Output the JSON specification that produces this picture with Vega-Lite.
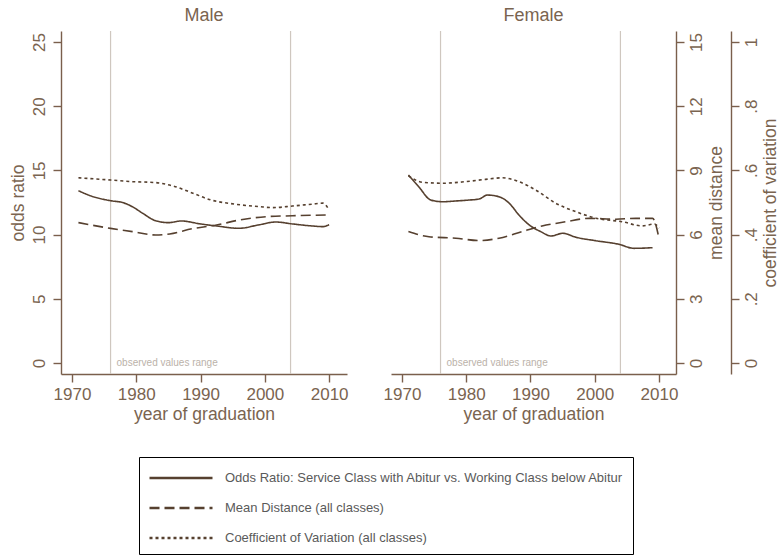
{
  "$schema": "https://vega.github.io/schema/vega-lite/v6.json",
  "background": "white",
  "padding": {"left": 9, "top": 7, "right": 0, "bottom": 0},
  "spacing": 44,
  "bounds": "flush",
  "config": {
    "view": {"stroke": null},
    "font": "Liberation Sans",
    "axis": {"domainColor": "#7a5f4c", "tickColor": "#7a5f4c", "labelColor": "#7a6450", "titleColor": "#7a6450", "labelFontSize": 17, "titleFontSize": 17.5, "titleFontWeight": "normal", "tickSize": 8, "grid": false, "domainWidth": 1.4, "tickWidth": 1.4, "labelFont": "Liberation Sans", "titleFont": "Liberation Sans"},
    "title": {"fontSize": 18, "fontWeight": "normal", "color": "#7a6450", "font": "Liberation Sans", "anchor": "middle", "frame": "group", "offset": 5}
  },
  "datasets": {
    "curves": [
      {"sex": "Male", "series": "Odds Ratio: Service Class with Abitur vs. Working Class below Abitur", "year": 1971, "value": 13.42},
      {"sex": "Male", "series": "Odds Ratio: Service Class with Abitur vs. Working Class below Abitur", "year": 1973, "value": 13.0},
      {"sex": "Male", "series": "Odds Ratio: Service Class with Abitur vs. Working Class below Abitur", "year": 1976, "value": 12.64},
      {"sex": "Male", "series": "Odds Ratio: Service Class with Abitur vs. Working Class below Abitur", "year": 1978, "value": 12.48},
      {"sex": "Male", "series": "Odds Ratio: Service Class with Abitur vs. Working Class below Abitur", "year": 1979.4, "value": 12.17},
      {"sex": "Male", "series": "Odds Ratio: Service Class with Abitur vs. Working Class below Abitur", "year": 1981, "value": 11.66},
      {"sex": "Male", "series": "Odds Ratio: Service Class with Abitur vs. Working Class below Abitur", "year": 1983, "value": 11.08},
      {"sex": "Male", "series": "Odds Ratio: Service Class with Abitur vs. Working Class below Abitur", "year": 1985, "value": 10.93},
      {"sex": "Male", "series": "Odds Ratio: Service Class with Abitur vs. Working Class below Abitur", "year": 1987, "value": 11.06},
      {"sex": "Male", "series": "Odds Ratio: Service Class with Abitur vs. Working Class below Abitur", "year": 1990, "value": 10.83},
      {"sex": "Male", "series": "Odds Ratio: Service Class with Abitur vs. Working Class below Abitur", "year": 1992.5, "value": 10.67},
      {"sex": "Male", "series": "Odds Ratio: Service Class with Abitur vs. Working Class below Abitur", "year": 1996, "value": 10.49},
      {"sex": "Male", "series": "Odds Ratio: Service Class with Abitur vs. Working Class below Abitur", "year": 1999, "value": 10.75},
      {"sex": "Male", "series": "Odds Ratio: Service Class with Abitur vs. Working Class below Abitur", "year": 2001.7, "value": 10.98},
      {"sex": "Male", "series": "Odds Ratio: Service Class with Abitur vs. Working Class below Abitur", "year": 2004.3, "value": 10.83},
      {"sex": "Male", "series": "Odds Ratio: Service Class with Abitur vs. Working Class below Abitur", "year": 2007.4, "value": 10.67},
      {"sex": "Male", "series": "Odds Ratio: Service Class with Abitur vs. Working Class below Abitur", "year": 2009, "value": 10.62},
      {"sex": "Male", "series": "Odds Ratio: Service Class with Abitur vs. Working Class below Abitur", "year": 2010, "value": 10.77},
      {"sex": "Male", "series": "Mean Distance (all classes)", "year": 1971, "value": 6.56},
      {"sex": "Male", "series": "Mean Distance (all classes)", "year": 1976, "value": 6.29},
      {"sex": "Male", "series": "Mean Distance (all classes)", "year": 1979.4, "value": 6.14},
      {"sex": "Male", "series": "Mean Distance (all classes)", "year": 1983, "value": 5.98},
      {"sex": "Male", "series": "Mean Distance (all classes)", "year": 1985.2, "value": 6.03},
      {"sex": "Male", "series": "Mean Distance (all classes)", "year": 1988.8, "value": 6.28},
      {"sex": "Male", "series": "Mean Distance (all classes)", "year": 1992.5, "value": 6.45},
      {"sex": "Male", "series": "Mean Distance (all classes)", "year": 1996, "value": 6.68},
      {"sex": "Male", "series": "Mean Distance (all classes)", "year": 2000.3, "value": 6.84},
      {"sex": "Male", "series": "Mean Distance (all classes)", "year": 2004.3, "value": 6.88},
      {"sex": "Male", "series": "Mean Distance (all classes)", "year": 2010, "value": 6.92},
      {"sex": "Male", "series": "Coefficient of Variation (all classes)", "year": 1971, "value": 0.577},
      {"sex": "Male", "series": "Coefficient of Variation (all classes)", "year": 1976, "value": 0.570},
      {"sex": "Male", "series": "Coefficient of Variation (all classes)", "year": 1979.4, "value": 0.565},
      {"sex": "Male", "series": "Coefficient of Variation (all classes)", "year": 1983, "value": 0.562},
      {"sex": "Male", "series": "Coefficient of Variation (all classes)", "year": 1985.8, "value": 0.551},
      {"sex": "Male", "series": "Coefficient of Variation (all classes)", "year": 1988.8, "value": 0.529},
      {"sex": "Male", "series": "Coefficient of Variation (all classes)", "year": 1991.6, "value": 0.508},
      {"sex": "Male", "series": "Coefficient of Variation (all classes)", "year": 1995.3, "value": 0.495},
      {"sex": "Male", "series": "Coefficient of Variation (all classes)", "year": 1999.2, "value": 0.487},
      {"sex": "Male", "series": "Coefficient of Variation (all classes)", "year": 2001.2, "value": 0.484},
      {"sex": "Male", "series": "Coefficient of Variation (all classes)", "year": 2004.3, "value": 0.489},
      {"sex": "Male", "series": "Coefficient of Variation (all classes)", "year": 2007.4, "value": 0.495},
      {"sex": "Male", "series": "Coefficient of Variation (all classes)", "year": 2009, "value": 0.498},
      {"sex": "Male", "series": "Coefficient of Variation (all classes)", "year": 2010, "value": 0.477},
      {"sex": "Female", "series": "Odds Ratio: Service Class with Abitur vs. Working Class below Abitur", "year": 1971, "value": 14.64},
      {"sex": "Female", "series": "Odds Ratio: Service Class with Abitur vs. Working Class below Abitur", "year": 1972.6, "value": 13.73},
      {"sex": "Female", "series": "Odds Ratio: Service Class with Abitur vs. Working Class below Abitur", "year": 1974.5, "value": 12.69},
      {"sex": "Female", "series": "Odds Ratio: Service Class with Abitur vs. Working Class below Abitur", "year": 1976.3, "value": 12.56},
      {"sex": "Female", "series": "Odds Ratio: Service Class with Abitur vs. Working Class below Abitur", "year": 1978.4, "value": 12.62},
      {"sex": "Female", "series": "Odds Ratio: Service Class with Abitur vs. Working Class below Abitur", "year": 1980.4, "value": 12.69},
      {"sex": "Female", "series": "Odds Ratio: Service Class with Abitur vs. Working Class below Abitur", "year": 1982, "value": 12.77},
      {"sex": "Female", "series": "Odds Ratio: Service Class with Abitur vs. Working Class below Abitur", "year": 1983.3, "value": 13.08},
      {"sex": "Female", "series": "Odds Ratio: Service Class with Abitur vs. Working Class below Abitur", "year": 1985.1, "value": 12.95},
      {"sex": "Female", "series": "Odds Ratio: Service Class with Abitur vs. Working Class below Abitur", "year": 1986.7, "value": 12.44},
      {"sex": "Female", "series": "Odds Ratio: Service Class with Abitur vs. Working Class below Abitur", "year": 1988.2, "value": 11.53},
      {"sex": "Female", "series": "Odds Ratio: Service Class with Abitur vs. Working Class below Abitur", "year": 1989.8, "value": 10.75},
      {"sex": "Female", "series": "Odds Ratio: Service Class with Abitur vs. Working Class below Abitur", "year": 1991.6, "value": 10.23},
      {"sex": "Female", "series": "Odds Ratio: Service Class with Abitur vs. Working Class below Abitur", "year": 1993.2, "value": 9.89},
      {"sex": "Female", "series": "Odds Ratio: Service Class with Abitur vs. Working Class below Abitur", "year": 1995, "value": 10.1},
      {"sex": "Female", "series": "Odds Ratio: Service Class with Abitur vs. Working Class below Abitur", "year": 1997.1, "value": 9.79},
      {"sex": "Female", "series": "Odds Ratio: Service Class with Abitur vs. Working Class below Abitur", "year": 2000.2, "value": 9.52},
      {"sex": "Female", "series": "Odds Ratio: Service Class with Abitur vs. Working Class below Abitur", "year": 2003.8, "value": 9.24},
      {"sex": "Female", "series": "Odds Ratio: Service Class with Abitur vs. Working Class below Abitur", "year": 2006.1, "value": 8.93},
      {"sex": "Female", "series": "Odds Ratio: Service Class with Abitur vs. Working Class below Abitur", "year": 2009, "value": 8.98},
      {"sex": "Female", "series": "Mean Distance (all classes)", "year": 1971, "value": 6.14},
      {"sex": "Female", "series": "Mean Distance (all classes)", "year": 1974.2, "value": 5.9},
      {"sex": "Female", "series": "Mean Distance (all classes)", "year": 1978.4, "value": 5.83},
      {"sex": "Female", "series": "Mean Distance (all classes)", "year": 1982, "value": 5.72},
      {"sex": "Female", "series": "Mean Distance (all classes)", "year": 1985.1, "value": 5.83},
      {"sex": "Female", "series": "Mean Distance (all classes)", "year": 1988.7, "value": 6.14},
      {"sex": "Female", "series": "Mean Distance (all classes)", "year": 1991.8, "value": 6.4},
      {"sex": "Female", "series": "Mean Distance (all classes)", "year": 1995.5, "value": 6.6},
      {"sex": "Female", "series": "Mean Distance (all classes)", "year": 1999.1, "value": 6.76},
      {"sex": "Female", "series": "Mean Distance (all classes)", "year": 2003.3, "value": 6.72},
      {"sex": "Female", "series": "Mean Distance (all classes)", "year": 2006.4, "value": 6.76},
      {"sex": "Female", "series": "Mean Distance (all classes)", "year": 2009, "value": 6.76},
      {"sex": "Female", "series": "Mean Distance (all classes)", "year": 2010, "value": 5.83},
      {"sex": "Female", "series": "Coefficient of Variation (all classes)", "year": 1971, "value": 0.583},
      {"sex": "Female", "series": "Coefficient of Variation (all classes)", "year": 1973.2, "value": 0.563},
      {"sex": "Female", "series": "Coefficient of Variation (all classes)", "year": 1976.3, "value": 0.560},
      {"sex": "Female", "series": "Coefficient of Variation (all classes)", "year": 1979.9, "value": 0.565},
      {"sex": "Female", "series": "Coefficient of Variation (all classes)", "year": 1983, "value": 0.572},
      {"sex": "Female", "series": "Coefficient of Variation (all classes)", "year": 1985.6, "value": 0.577},
      {"sex": "Female", "series": "Coefficient of Variation (all classes)", "year": 1988.2, "value": 0.565},
      {"sex": "Female", "series": "Coefficient of Variation (all classes)", "year": 1990.8, "value": 0.539},
      {"sex": "Female", "series": "Coefficient of Variation (all classes)", "year": 1993.9, "value": 0.498},
      {"sex": "Female", "series": "Coefficient of Variation (all classes)", "year": 1997.1, "value": 0.471},
      {"sex": "Female", "series": "Coefficient of Variation (all classes)", "year": 2000.2, "value": 0.451},
      {"sex": "Female", "series": "Coefficient of Variation (all classes)", "year": 2004.3, "value": 0.440},
      {"sex": "Female", "series": "Coefficient of Variation (all classes)", "year": 2007.4, "value": 0.427},
      {"sex": "Female", "series": "Coefficient of Variation (all classes)", "year": 2009.3, "value": 0.433},
      {"sex": "Female", "series": "Coefficient of Variation (all classes)", "year": 2010, "value": 0.420}
    ],
    "observed": [
      {"year": 1976, "label": "observed values range"},
      {"year": 2004, "label": ""}
    ]
  },
  "hconcat": [
    {
      "width": 286,
      "height": 343,
      "title": "Male",
      "encoding": {
        "x": {"field": "year", "type": "quantitative", "scale": {"domain": [1968.29, 2012.78], "nice": false, "zero": false}, "axis": {"values": [1970, 1980, 1990, 2000, 2010], "format": "d", "title": "year of graduation", "labelPadding": 4, "titlePadding": 3}}
      },
      "layer": [
        {"data": {"name": "observed"}, "mark": {"type": "rule", "color": "#cfc7bf", "strokeWidth": 1.2}, "encoding": {}},
        {"data": {"name": "observed"}, "mark": {"type": "text", "align": "left", "baseline": "middle", "dx": 6, "fontSize": 10, "color": "#bbb2a9", "font": "Liberation Sans"},
         "encoding": {"text": {"field": "label"}, "y": {"datum": 0, "scale": {"domain": [-0.86, 25.86], "nice": false, "zero": false}, "axis": null}}},
        {"data": {"name": "curves"}, "transform": [{"filter": "datum.sex === 'Male'"}, {"filter": {"field": "series", "equal": "Odds Ratio: Service Class with Abitur vs. Working Class below Abitur"}}],
         "mark": {"type": "line", "color": "#56402f", "strokeWidth": 1.6, "interpolate": "monotone"},
         "encoding": {
           "y": {"field": "value", "type": "quantitative", "scale": {"domain": [-0.86, 25.86], "nice": false, "zero": false}, "axis": {"values": [0, 5, 10, 15, 20, 25], "title": "odds ratio", "labelAngle": -90, "labelPadding": 5, "titlePadding": 3}},
           "strokeDash": {"field": "series", "type": "nominal", "scale": {"domain": ["Odds Ratio: Service Class with Abitur vs. Working Class below Abitur", "Mean Distance (all classes)", "Coefficient of Variation (all classes)"], "range": [[1, 0], [10, 5], [3, 3]]},
             "legend": {"orient": "none", "legendX": 78, "legendY": 426, "title": null, "direction": "vertical", "symbolType": "M-3,0H3", "symbolSize": 441, "symbolStrokeColor": "black", "symbolStrokeWidth": 2.5, "symbolOffset": 21, "labelOffset": 32, "labelFontSize": 13, "labelColor": "#5a5a5a", "labelFont": "Liberation Sans", "labelLimit": 0, "rowPadding": 11, "padding": 9, "strokeColor": "black", "fillColor": "white", "cornerRadius": 0}}
         }},
        {"data": {"name": "curves"}, "transform": [{"filter": "datum.sex === 'Male'"}, {"filter": {"field": "series", "equal": "Mean Distance (all classes)"}}],
         "mark": {"type": "line", "color": "#56402f", "strokeWidth": 1.6, "interpolate": "monotone"},
         "encoding": {
           "y": {"field": "value", "type": "quantitative", "scale": {"domain": [-0.516, 15.516], "nice": false, "zero": false}, "axis": null},
           "strokeDash": {"field": "series", "type": "nominal"}
         }},
        {"data": {"name": "curves"}, "transform": [{"filter": "datum.sex === 'Male'"}, {"filter": {"field": "series", "equal": "Coefficient of Variation (all classes)"}}],
         "mark": {"type": "line", "color": "#56402f", "strokeWidth": 1.6, "interpolate": "monotone"},
         "encoding": {
           "y": {"field": "value", "type": "quantitative", "scale": {"domain": [-0.0344, 1.0344], "nice": false, "zero": false}, "axis": null},
           "strokeDash": {"field": "series", "type": "nominal"}
         }}
      ],
      "resolve": {"scale": {"y": "independent"}}
    },
    {
      "width": 285,
      "height": 343,
      "title": "Female",
      "encoding": {
        "x": {"field": "year", "type": "quantitative", "scale": {"domain": [1968.29, 2012.65], "nice": false, "zero": false}, "axis": {"values": [1970, 1980, 1990, 2000, 2010], "format": "d", "title": "year of graduation", "labelPadding": 4, "titlePadding": 3}}
      },
      "layer": [
        {"data": {"name": "observed"}, "mark": {"type": "rule", "color": "#cfc7bf", "strokeWidth": 1.2}, "encoding": {}},
        {"data": {"name": "observed"}, "mark": {"type": "text", "align": "left", "baseline": "middle", "dx": 6, "fontSize": 10, "color": "#bbb2a9", "font": "Liberation Sans"},
         "encoding": {"text": {"field": "label"}, "y": {"datum": 0, "scale": {"domain": [-0.86, 25.86], "nice": false, "zero": false}, "axis": null}}},
        {"data": {"name": "curves"}, "transform": [{"filter": "datum.sex === 'Female'"}, {"filter": {"field": "series", "equal": "Odds Ratio: Service Class with Abitur vs. Working Class below Abitur"}}],
         "mark": {"type": "line", "color": "#56402f", "strokeWidth": 1.6, "interpolate": "monotone"},
         "encoding": {
           "y": {"field": "value", "type": "quantitative", "scale": {"domain": [-0.86, 25.86], "nice": false, "zero": false}, "axis": null},
           "strokeDash": {"field": "series", "type": "nominal"}
         }},
        {"data": {"name": "curves"}, "transform": [{"filter": "datum.sex === 'Female'"}, {"filter": {"field": "series", "equal": "Mean Distance (all classes)"}}],
         "mark": {"type": "line", "color": "#56402f", "strokeWidth": 1.6, "interpolate": "monotone"},
         "encoding": {
           "y": {"field": "value", "type": "quantitative", "scale": {"domain": [-0.516, 15.516], "nice": false, "zero": false}, "axis": {"orient": "right", "values": [0, 3, 6, 9, 12, 15], "title": "mean distance", "labelAngle": -90, "labelPadding": 4, "titleAngle": 270, "titleBaseline": "top", "titlePadding": 3}},
           "strokeDash": {"field": "series", "type": "nominal"}
         }},
        {"data": {"name": "curves"}, "transform": [{"filter": "datum.sex === 'Female'"}, {"filter": {"field": "series", "equal": "Coefficient of Variation (all classes)"}}],
         "mark": {"type": "line", "color": "#56402f", "strokeWidth": 1.6, "interpolate": "monotone"},
         "encoding": {
           "y": {"field": "value", "type": "quantitative", "scale": {"domain": [-0.0344, 1.0344], "nice": false, "zero": false}, "axis": {"orient": "right", "offset": 55, "values": [0, 0.2, 0.4, 0.6, 0.8, 1], "labelExpr": "datum.value == 0 ? '0' : datum.value == 1 ? '1' : '.' + round(datum.value * 10)", "title": "coefficient of variation", "labelAngle": -90, "labelPadding": 4, "titleAngle": 270, "titleBaseline": "top", "titlePadding": 2}},
           "strokeDash": {"field": "series", "type": "nominal"}
         }}
      ],
      "resolve": {"scale": {"y": "independent"}}
    }
  ]
}
